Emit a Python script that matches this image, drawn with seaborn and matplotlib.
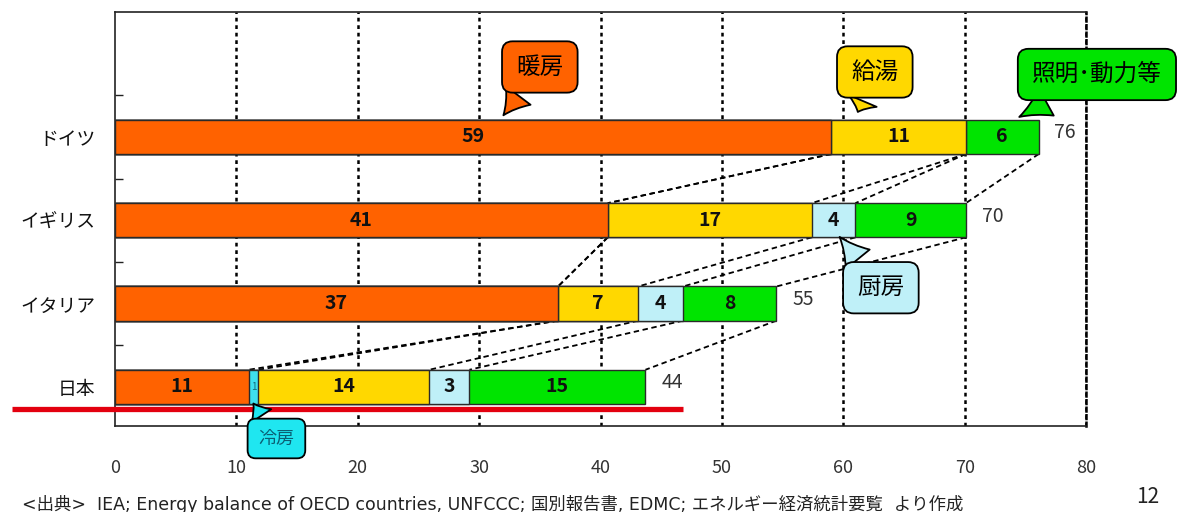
import pandas as pd
import matplotlib.pyplot as plt
import seaborn as sns

# households energy use per person by purpose
countries = ['ドイツ', 'イギリス', 'イタリア', '日本']
purposes = ['暖房', '冷房', '給湯', '厨房', '照明･動力等']
heating = [59.0, 40.6, 36.5, 11.0]
cooling = [0.0, 0.0, 0.0, 0.8]
hot_water = [11.1, 16.8, 6.6, 14.1]
kitchen = [0.0, 3.6, 3.7, 3.3]
lighting = [6.0, 9.1, 7.7, 14.5]

# numbers printed in the segments / at bar ends
heating_lbl = ['59', '41', '37', '11']
cooling_lbl = ['', '', '', '1']
hot_water_lbl = ['11', '17', '7', '14']
kitchen_lbl = ['', '4', '4', '3']
lighting_lbl = ['6', '9', '8', '15']
totals = ['76', '70', '55', '44']

colors = ['#ff6200', '#3ee0ee', '#ffd800', '#bff0f8', '#00e400']

sns.set_style('white')
plt.rcParams['font.family'] = ['Noto Sans CJK JP', 'DejaVu Sans']

layers = [heating, cooling, hot_water, kitchen, lighting]
layer_lbls = [heating_lbl, cooling_lbl, hot_water_lbl, kitchen_lbl, lighting_lbl]

# cumulative ends of each segment
rows = []
for i, c in enumerate(countries):
    run = 0
    for p, vals in zip(purposes, layers):
        start = run
        run += vals[i]
        rows.append((c, p, start, run))
df = pd.DataFrame(rows, columns=['country', 'purpose', 'start', 'end'])

fig = plt.figure(figsize=(11.84, 5.12), dpi=100)
ax = fig.add_axes([115 / 1184, 1 - 426 / 512, 971 / 1184, 414 / 512])

# stacked bars: draw the longest cumulative first, shorter ones on top
for p, col in reversed(list(zip(purposes, colors))):
    sub = df[df['purpose'] == p]
    sns.barplot(data=sub, x='end', y='country', order=countries, orient='h',
                color=col, saturation=1, width=0.41, edgecolor='#2a2a2a',
                linewidth=1, errorbar=None, ax=ax, zorder=3)

# numbers inside segments
for _, r in df.iterrows():
    i = countries.index(r['country'])
    k = purposes.index(r['purpose'])
    lbl = layer_lbls[k][i]
    if not lbl:
        continue
    if r['purpose'] == '冷房':
        ax.text((r['start'] + r['end']) / 2, i, lbl, ha='center', va='center',
                fontsize=7, color='#136b7a', zorder=4)
    else:
        ax.text((r['start'] + r['end']) / 2, i, lbl, ha='center', va='center',
                fontsize=14, fontweight='bold', color='#111111', zorder=4)

# totals at bar ends
ends = df.groupby('country', sort=False)['end'].max()
for i, c in enumerate(countries):
    ax.text(ends[c] + 1.3, i - 0.05, totals[i], ha='left', va='center',
            fontsize=14, color='#333333')

# dashed connectors between segment boundaries of neighbouring bars
h = 0.205
for i in range(len(countries) - 1):
    up = df[df['country'] == countries[i]]['end'].values
    lo = df[df['country'] == countries[i + 1]]['end'].values
    for a, b in zip(up, lo):
        ax.plot([a, b], [i + h, i + 1 - h], color='black', lw=1.3,
                ls=(0, (3, 2)), zorder=2)

# red underline below Japan
ax.plot([-8.5, 46.8], [3.26, 3.26], color='#e3000f', lw=3.8,
        solid_capstyle='butt', clip_on=False, zorder=3.5)


def callout(text, xy, xytext, fc, fs=17, tc='black'):
    ax.annotate(text, xy=xy, xytext=xytext, ha='center', va='center',
                fontsize=fs, color=tc, annotation_clip=False, zorder=6,
                bbox=dict(boxstyle='round,pad=0.6,rounding_size=0.45',
                          fc=fc, ec='black', lw=1.3),
                arrowprops=dict(arrowstyle='wedge,tail_width=1.3,shrink_factor=0.4',
                                fc=fc, ec='black', lw=1.3, shrinkB=0))


callout('暖房', (32.0, -0.26), (35.0, -0.84), colors[0])
callout('給湯', (61.2, -0.30), (62.6, -0.78), colors[2])
callout('照明･動力等', (74.5, -0.24), (80.9, -0.75), colors[4])
callout('厨房', (59.7, 1.20), (63.1, 1.81), colors[3])
callout('冷房', (11.4, 3.20), (13.3, 3.62), '#1fe6f0', fs=13, tc='#0b5f74')

# axes styling
ax.set_xlim(0, 80)
ax.set_ylim(3.47, -1.5)
ax.set_xticks(range(0, 81, 10))
ax.set_xlabel('')
ax.set_ylabel('')
ax.grid(axis='x', color='black', ls=(0, (1.5, 1.5)), lw=1.8)
ax.get_xgridlines()[0].set_visible(False)
ax.grid(axis='y', visible=False)
ax.set_axisbelow(True)
ax.spines['right'].set_linestyle((0, (1.5, 1.5)))
ax.spines['right'].set_linewidth(1.8)
ax.spines['right'].set_color('black')
for s in ['left', 'top', 'bottom']:
    ax.spines[s].set_color('#222222')
    ax.spines[s].set_linewidth(1.2)
ax.tick_params(axis='x', length=0, pad=24, labelsize=13, labelcolor='#333333')
ax.set_yticks(range(len(countries)))
ax.set_yticklabels(countries)
ax.tick_params(axis='y', which='major', length=0, pad=14, labelsize=13.5,
               labelcolor='#111111')
ax.set_yticks([-0.5, 0.5, 1.5, 2.5], minor=True)
ax.tick_params(axis='y', which='minor', direction='in', length=6, width=1,
               left=True, color='#222222')

fig.text(22 / 1184, 1 - 504 / 512,
         '<出典>  IEA; Energy balance of OECD countries, UNFCCC; 国別報告書, EDMC; エネルギー経済統計要覧  より作成',
         ha='left', va='center', fontsize=12.5, color='#222222',
         family=['DejaVu Sans', 'Noto Sans CJK JP'])
fig.text(1148 / 1184, 1 - 497 / 512, '12', ha='center', va='center',
         fontsize=15, color='#222222')

fig.savefig('out.png', dpi=100)
